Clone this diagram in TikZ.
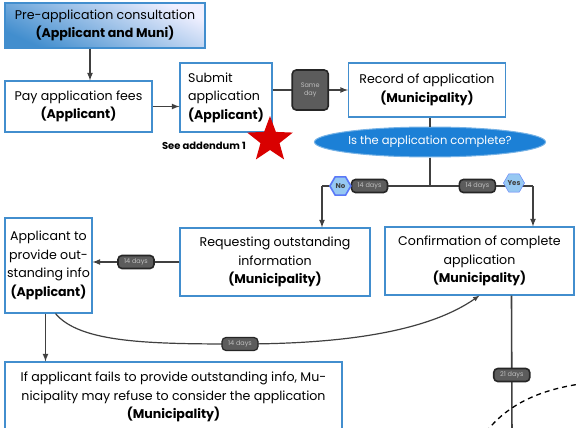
\documentclass[tikz,border=0pt]{standalone}
\usepackage{fontspec}
\setmainfont{Poppins}
\usetikzlibrary{arrows, calc, shapes.geometric}

\definecolor{boxblue}{RGB}{66,142,206}
\definecolor{ovalblue}{RGB}{28,128,214}
\definecolor{hexblue}{RGB}{150,200,242}
\definecolor{tagfill}{RGB}{92,92,92}

\tikzset{
  stage/.style={draw=boxblue, line width=1.1pt, fill=white, align=center,
    font=\fontsize{12.6}{18.5}\selectfont, inner sep=1pt},
  tag/.style={draw=black!85, fill=tagfill, rounded corners=4pt, text=black!25,
    font=\fontsize{6.5}{7.5}\selectfont, inner sep=2pt, minimum height=13pt, minimum width=36pt},
  answer/.style={regular polygon, regular polygon sides=6, fill=hexblue,
    draw=hexblue!60!blue, inner sep=0pt, minimum size=21pt,
    font=\bfseries\fontsize{7}{8}\selectfont, text=black!75},
  flow/.style={line width=1.6pt, draw=black!75, -latex},
  link/.style={line width=1.6pt, draw=black!75}
}

\begin{document}
\begin{tikzpicture}[x=1pt, y=-1pt]
  \useasboundingbox (0,0) rectangle (576,428);

  % boxes
  \node[stage, top color=blue!6, bottom color=boxblue, shading angle=-25,
        minimum width=200pt, minimum height=45pt] (pre) at (105,25.5)
    {Pre-application consultation\\\textbf{(Applicant and Muni)}};
  \node[stage, minimum width=147pt, minimum height=51pt] (pay) at (78.5,106.5)
    {Pay application fees\\\textbf{(Applicant)}};
  \node[stage, align=left, minimum width=92pt, minimum height=69pt] (submit) at (226,97.5)
    {Submit\\application\\\textbf{(Applicant)}};
  \node[stage, minimum width=157pt, minimum height=54pt] (record) at (427,90)
    {Record of application\\\textbf{(Municipality)}};
  \node[ellipse, fill=ovalblue, draw=ovalblue!60, line width=1pt, text=white,
        minimum width=210pt, minimum height=30pt, inner sep=0pt,
        font=\fontsize{11.5}{12}\selectfont] (check) at (430,142)
    {Is the application complete?};
  \node[stage, minimum width=190pt, minimum height=68pt] (request) at (275,262)
    {Requesting outstanding\\information\\\textbf{(Municipality)}};
  \node[stage, minimum width=189pt, minimum height=68pt] (confirm) at (479.5,261)
    {Confirmation of complete\\application\\\textbf{(Municipality)}};
  \node[stage, minimum width=87pt, minimum height=95pt, inner sep=0pt] (provide) at (48.5,265.5)
    {Applicant to\\provide out-\\standing info\\\textbf{(Applicant)}};
  \node[stage, minimum width=337pt, minimum height=70pt] (refuse) at (173.5,397)
    {If applicant fails to provide outstanding info, Mu-\\nicipality may refuse to consider the application\\\textbf{(Municipality)}};

  % addendum marker
  \node[font=\bfseries\fontsize{10}{11}\selectfont] (addendum) at (204,146) {See addendum 1};
  \node[star, star points=5, star point ratio=2.4, fill=red!85!black, draw=none,
        minimum size=48pt, inner sep=0pt] (mark) at (270,140) {};

  % helper points
  \coordinate (split) at (430,186);
  \coordinate (nocorner) at (322,186);
  \coordinate (yescorner) at (533,186);
  \coordinate (onward) at (512,440);

  % connectors
  \draw[flow] ([xshift=-15pt]pre.south) -- ([xshift=-15pt]pre.south |- pay.north);
  \draw[flow] (pay.east) -- (pay.east -| submit.west);
  \draw[flow] (record.west -| submit.east) -- node[tag, minimum width=36pt, minimum height=40pt,
      align=center] {Same\\day} (record.west);
  \draw[link] (record.south -| check.north) -- (check.north);
  \draw[link] (check.south) -- (split);
  \draw[link] (split) -- node[tag, pos=0.56] {14 days} node[answer, pos=0.83] {No} (nocorner);
  \draw[flow] (nocorner) -- (nocorner |- request.north);
  \draw[link] (split) -- node[tag, pos=0.46] {14 days} (yescorner);
  \draw[flow] (yescorner) -- (yescorner |- confirm.north);
  \node[answer] (yes) at (514,183) {Yes};
  \draw[flow] (request.west) -- node[tag] {14 days} (request.west -| provide.east);
  \draw[flow] ([xshift=-3pt]provide.south) -- ([xshift=-3pt]provide.south |- refuse.north);
  \draw[flow, line width=1.2pt] ([xshift=7pt]provide.south) .. controls (80,343) and (150,344) ..
    (240,344) node[tag] {14 days} .. controls (350,344) and (430,330) .. (confirm.south);
  \draw[link] ([xshift=32pt]confirm.south) -- node[tag, pos=0.55] {21 days} (onward);

  % dashed outline
  \draw[line width=1.3pt, dashed, dash pattern=on 5pt off 4pt]
    (486,432) .. controls (508,404) and (540,390) .. (580,384);
\end{tikzpicture}
\end{document}
